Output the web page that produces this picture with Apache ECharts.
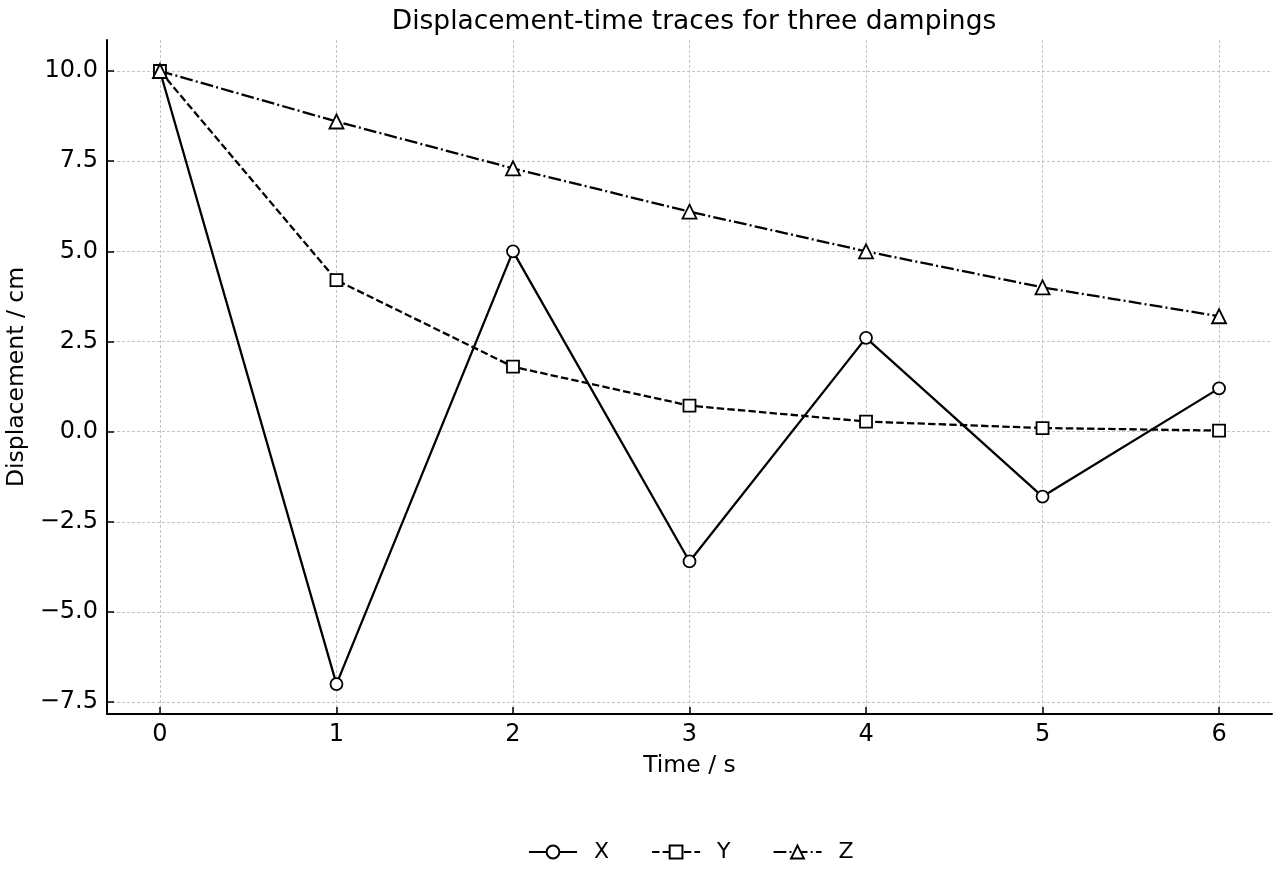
<!DOCTYPE html>
<html>
<head>
<meta charset="utf-8">
<script src="https://cdn.jsdelivr.net/npm/echarts@6/dist/echarts.min.js"></script>
<style>
  html, body { margin: 0; padding: 0; background: #fff; }
  #chart { width: 1280px; height: 880px; }
</style>
</head>
<body>
<div id="chart"></div>
<script>
// Data
const times = [0, 1, 2, 3, 4, 5, 6];
const seriesX = [10, -7.0, 5.0, -3.6, 2.6, -1.8, 1.2];
const seriesY = [10, 4.2, 1.8, 0.72, 0.28, 0.1, 0.03];
const seriesZ = [10, 8.6, 7.3, 6.1, 5.0, 4.0, 3.2];
const xTicks = [0, 1, 2, 3, 4, 5, 6];
const yTicks = [-7.5, -5, -2.5, 0, 2.5, 5, 7.5, 10];

const font = 'DejaVu Sans';

function pairs(vals) {
    return times.map((t, i) => [t, vals[i]]);
}

function fmtY(v) {
    const s = Math.abs(v).toFixed(1);
    return v < 0 ? '\u2212' + s : s;
}

const chart = echarts.init(document.getElementById('chart'), null, { renderer: 'canvas' });

const gridLine = { show: true, lineStyle: { color: '#bdbdbd', width: 0.9, type: [3, 2] } };

const baseSeries = {
    type: 'line',
    symbolSize: 12,
    showSymbol: true,
    animation: false,
    itemStyle: { color: '#fff', borderColor: '#000', borderWidth: 1.8 },
    z: 3
};

const option = {
    animation: false,
    backgroundColor: '#fff',
    title: {
        text: 'Displacement-time traces for three dampings',
        left: 689,
        top: 4,
        textAlign: 'center',
        textStyle: { fontFamily: font, fontSize: 26.5, fontWeight: 'normal', color: '#000' }
    },
    legend: {
        bottom: 12,
        left: 523,
        itemWidth: 48,
        itemHeight: 16,
        itemGap: 42,
        textStyle: { fontFamily: font, fontSize: 22, color: '#000', padding: [0, 0, 0, 12] },
        data: ['X', 'Y', 'Z']
    },
    grid: { left: 107, right: 8, top: 40, bottom: 166, containLabel: false, outerBoundsMode: 'none' },
    xAxis: {
        type: 'value',
        min: -0.3,
        max: 6.3,
        name: 'Time / s',
        nameLocation: 'middle',
        nameGap: 40,
        nameTextStyle: { fontFamily: font, fontSize: 23.5, color: '#000' },
        axisLine: { show: true, onZero: false, lineStyle: { color: '#000', width: 2 } },
        axisTick: { show: true, inside: true, length: 7, customValues: xTicks, lineStyle: { color: '#000', width: 1.5 } },
        axisLabel: { customValues: xTicks, margin: 9, fontFamily: font, fontSize: 24, color: '#000' },
        splitLine: gridLine
    },
    yAxis: {
        type: 'value',
        min: -7.83,
        max: 10.86,
        name: 'Displacement / cm',
        nameLocation: 'middle',
        nameGap: 76,
        nameTextStyle: { fontFamily: font, fontSize: 23.5, color: '#000' },
        axisLine: { show: true, onZero: false, lineStyle: { color: '#000', width: 2 } },
        axisTick: { show: true, inside: true, length: 7, customValues: yTicks, lineStyle: { color: '#000', width: 1.5 } },
        axisLabel: { customValues: yTicks, margin: 9, fontFamily: font, fontSize: 24, color: '#000', formatter: fmtY },
        splitLine: gridLine
    },
    series: [
        Object.assign({}, baseSeries, {
            name: 'X',
            symbol: 'circle',
            data: pairs(seriesX),
            lineStyle: { color: '#000', width: 2.3, type: 'solid' }
        }),
        Object.assign({}, baseSeries, {
            name: 'Y',
            symbol: 'rect',
            symbolSize: 12,
            data: pairs(seriesY),
            lineStyle: { color: '#000', width: 2.3, type: [7.4, 3.2] }
        }),
        Object.assign({}, baseSeries, {
            name: 'Z',
            symbol: 'triangle',
            symbolSize: 14,
            data: pairs(seriesZ),
            lineStyle: { color: '#000', width: 2.3, type: [12.8, 3.2, 2, 3.2] }
        })
    ]
};

chart.setOption(option);
</script>
</body>
</html>
